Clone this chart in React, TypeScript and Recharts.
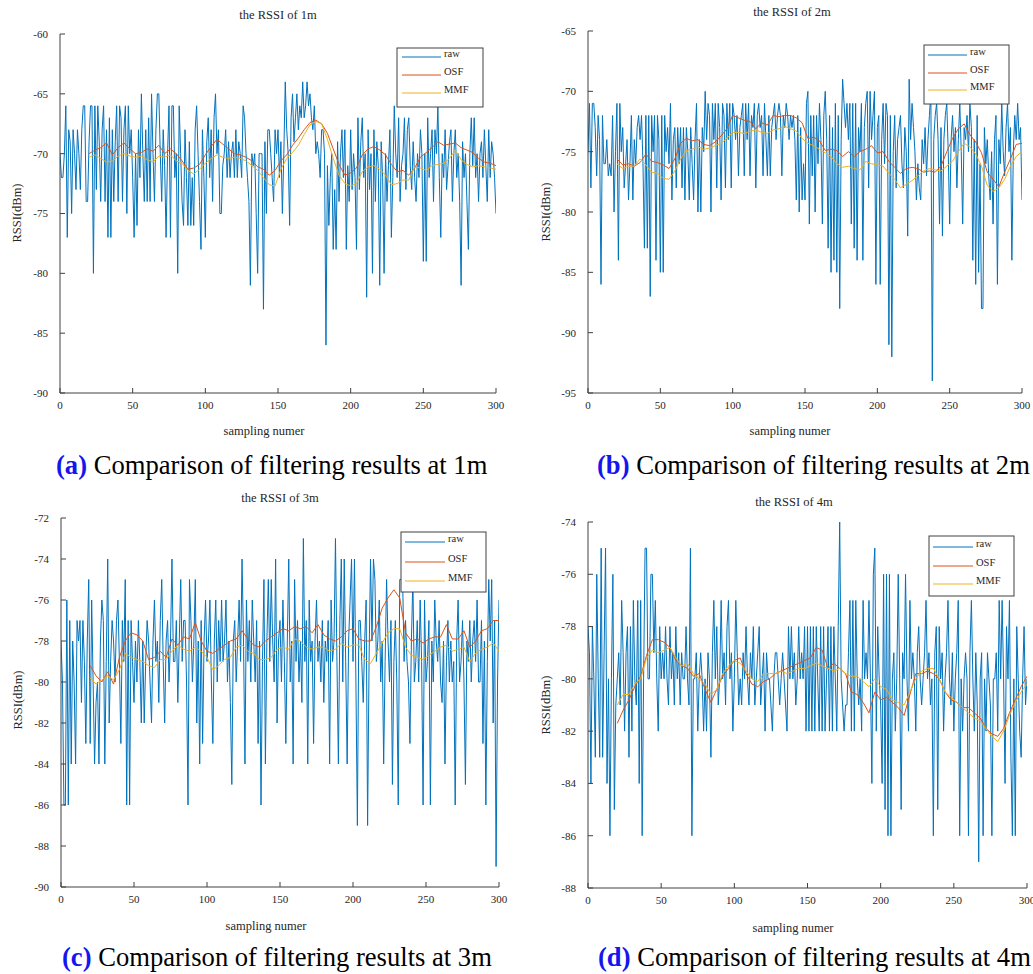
import React from 'react';
import { LineChart, Line, XAxis, YAxis } from 'recharts';

// ---------- data ----------
const sampleTicks = [0, 50, 100, 150, 200, 250, 300];
const filterStart = 20;
const filterStep = 4;

const yTicksA = [-90, -85, -80, -75, -70, -65, -60];
const yTicksB = [-95, -90, -85, -80, -75, -70, -65];
const yTicksC = [-90, -88, -86, -84, -82, -80, -78, -76, -74, -72];
const yTicksD = [-88, -86, -84, -82, -80, -78, -76, -74];

const rawA = [
  -70, -72, -72, -70, -66, -77, -68, -69, -75, -68,
  -70, -73, -68, -70, -73, -68, -66, -66, -74, -74,
  -69, -66, -66, -80, -66, -73, -66, -69, -74, -68,
  -66, -74, -68, -77, -67, -77, -68, -74, -69, -66,
  -74, -66, -67, -74, -68, -66, -75, -66, -70, -68,
  -72, -77, -70, -76, -68, -72, -65, -70, -74, -68,
  -74, -67, -74, -65, -70, -74, -68, -65, -65, -70,
  -74, -68, -71, -77, -70, -66, -77, -66, -66, -72,
  -70, -80, -66, -70, -74, -76, -68, -72, -76, -69,
  -76, -72, -76, -68, -66, -70, -74, -78, -68, -72,
  -77, -69, -67, -72, -68, -74, -67, -65, -70, -68,
  -75, -75, -71, -70, -68, -72, -69, -72, -70, -69,
  -72, -68, -72, -69, -70, -72, -66, -67, -70, -72,
  -74, -81, -70, -71, -70, -75, -80, -70, -70, -70,
  -83, -69, -75, -68, -68, -70, -72, -74, -68, -70,
  -68, -72, -69, -75, -70, -64, -68, -70, -76, -67,
  -65, -69, -67, -65, -68, -66, -67, -64, -67, -66,
  -64, -66, -65, -67, -68, -66, -70, -69, -70, -72,
  -68, -68, -70, -86, -71, -76, -72, -70, -78, -73,
  -78, -69, -74, -70, -68, -72, -68, -78, -71, -74,
  -68, -73, -70, -72, -78, -67, -73, -69, -67, -72,
  -70, -82, -68, -73, -70, -80, -68, -74, -69, -71,
  -81, -69, -72, -80, -70, -74, -71, -68, -77, -72,
  -66, -70, -72, -67, -74, -71, -70, -67, -73, -68,
  -67, -71, -73, -69, -72, -74, -70, -72, -68, -70,
  -79, -70, -79, -67, -72, -70, -68, -74, -68, -70,
  -66, -72, -77, -70, -72, -68, -73, -71, -69, -68,
  -74, -70, -68, -72, -70, -74, -81, -69, -72, -70,
  -74, -78, -70, -67, -71, -67, -72, -70, -74, -70,
  -69, -72, -68, -71, -74, -68, -72, -69, -70, -72,
  -75,
];
const osfA = [
  -70.0, -69.7, -69.5, -69.1, -70.1, -69.5, -69.1, -69.6, -70.0, -69.9,
  -69.6, -69.8, -69.3, -70.0, -69.6, -70.0, -70.6, -71.3, -71.2, -70.9,
  -70.1, -69.4, -68.8, -69.2, -69.6, -70.0, -70.1, -70.3, -70.6, -71.1,
  -71.3, -71.8, -71.4, -70.6, -70.1, -69.3, -68.7, -68.0, -67.4, -67.2,
  -67.5, -68.3, -69.6, -70.9, -71.8, -71.6, -71.2, -70.1, -69.6, -69.4,
  -69.7, -70.1, -70.9, -71.5, -71.4, -71.8, -71.2, -70.3, -69.9, -69.5,
  -69.0, -69.3, -69.2, -69.1, -69.5, -69.7, -69.9, -70.4, -70.7, -70.8,
  -71.0,
];
const mmfA = [
  -70.3, -70.1, -70.4, -70.7, -70.6, -70.2, -70.0, -70.2, -70.3, -70.2,
  -70.5, -70.7, -70.2, -70.3, -70.1, -70.6, -70.8, -71.4, -71.7, -71.3,
  -70.8, -70.4, -70.1, -70.3, -70.4, -70.3, -70.4, -70.6, -71.0, -71.4,
  -72.0, -72.6, -72.7, -71.3, -70.4, -69.9, -69.3, -68.4, -67.6, -67.3,
  -67.5, -68.8, -70.4, -71.8, -72.5, -72.7, -72.5, -71.5, -71.1, -71.0,
  -71.3, -71.8, -72.6, -72.5, -72.2, -72.2, -71.1, -71.2, -71.4, -71.0,
  -70.9, -70.8, -70.4, -69.7, -70.5, -70.9, -71.1, -71.0, -71.1, -71.2,
  -71.3,
];

const rawB = [
  -75, -71, -78, -71, -71, -73, -77, -72, -74, -86,
  -72, -76, -76, -74, -77, -76, -77, -72, -80, -75,
  -71, -84, -71, -75, -73, -78, -76, -74, -79, -76,
  -72, -79, -74, -76, -73, -72, -74, -72, -76, -83,
  -72, -83, -72, -87, -72, -75, -72, -84, -72, -74,
  -85, -72, -85, -72, -75, -73, -76, -71, -79, -74,
  -73, -78, -73, -76, -73, -78, -73, -79, -73, -75,
  -79, -73, -76, -79, -74, -71, -80, -74, -80, -73,
  -75, -70, -74, -71, -72, -80, -71, -74, -71, -78,
  -71, -73, -79, -71, -72, -78, -71, -74, -71, -78,
  -71, -72, -74, -72, -77, -73, -72, -71, -77, -71,
  -74, -71, -77, -72, -73, -71, -78, -72, -71, -73,
  -72, -77, -71, -74, -77, -72, -77, -73, -72, -71,
  -74, -72, -71, -72, -77, -72, -73, -71, -72, -74,
  -72, -73, -72, -74, -79, -72, -80, -73, -79, -76,
  -79, -71, -70, -81, -72, -77, -72, -80, -72, -76,
  -71, -74, -81, -72, -70, -74, -83, -72, -85, -73,
  -84, -71, -85, -72, -88, -74, -69, -71, -73, -71,
  -74, -71, -81, -71, -83, -71, -84, -73, -75, -71,
  -84, -73, -71, -70, -78, -70, -74, -72, -70, -86,
  -73, -72, -86, -74, -71, -76, -71, -72, -91, -72,
  -92, -75, -72, -78, -74, -73, -72, -76, -78, -73,
  -75, -82, -69, -74, -71, -73, -75, -79, -76, -78,
  -79, -74, -76, -73, -77, -74, -72, -70, -94, -74,
  -72, -71, -74, -81, -73, -82, -74, -72, -71, -75,
  -81, -74, -72, -75, -73, -78, -74, -71, -75, -81,
  -73, -74, -72, -75, -71, -73, -84, -74, -86, -72,
  -85, -76, -88, -88, -73, -76, -74, -77, -79, -75,
  -81, -74, -72, -86, -74, -76, -71, -75, -77, -73,
  -71, -75, -73, -84, -75, -72, -74, -71, -74, -73,
  -79,
];
const osfB = [
  -75.6, -76.1, -76.0, -76.2, -75.9, -75.2, -75.8, -75.9, -76.1, -76.4,
  -75.6, -74.3, -73.9, -74.1, -74.0, -74.4, -74.5, -74.2, -73.7, -73.1,
  -72.0, -72.2, -72.4, -72.5, -73.1, -72.6, -72.8, -72.0, -72.1, -72.0,
  -72.0, -72.2, -72.6, -73.9, -73.8, -74.1, -74.9, -74.8, -74.9, -75.4,
  -75.0, -75.4, -75.0, -74.8, -74.5, -75.1, -75.0, -75.8, -76.3, -76.8,
  -76.4, -76.3, -76.4, -76.7, -76.6, -76.7, -76.2, -75.0, -73.9, -73.1,
  -72.7, -73.6, -74.2, -75.1, -76.7, -77.3, -77.9, -76.7, -75.6, -74.4,
  -74.3,
];
const mmfB = [
  -76.0, -76.4, -76.2, -76.2, -75.6, -76.1, -76.7, -76.8, -77.2, -77.3,
  -76.6, -75.6, -74.9, -74.8, -74.6, -74.8, -74.7, -74.5, -74.3, -73.9,
  -73.4, -73.4, -73.5, -73.3, -73.2, -73.4, -73.5, -73.2, -73.1, -72.9,
  -73.1, -73.3, -73.9, -74.3, -74.5, -74.8, -75.1, -75.4, -76.0, -76.3,
  -76.2, -76.4, -76.5, -75.8, -76.0, -76.1, -76.2, -76.8, -77.3, -78.0,
  -77.7, -77.4, -77.0, -76.6, -76.4, -76.5, -76.6, -76.2, -75.8, -75.0,
  -74.3, -74.6, -75.2, -76.2, -77.8, -78.3, -78.0, -77.3, -76.2, -75.4,
  -75.0,
];

const rawC = [
  -78, -80, -86, -86, -76, -86, -77, -84, -78, -80,
  -84, -77, -78, -77, -81, -77, -79, -83, -78, -75,
  -83, -76, -80, -84, -81, -80, -84, -78, -76, -77,
  -84, -79, -74, -82, -79, -77, -78, -80, -77, -76,
  -79, -83, -77, -79, -75, -86, -77, -86, -77, -79,
  -81, -78, -80, -77, -79, -82, -78, -82, -79, -77,
  -78, -80, -82, -78, -76, -79, -78, -81, -77, -75,
  -79, -82, -78, -77, -80, -78, -74, -79, -79, -77,
  -81, -78, -75, -79, -77, -77, -80, -86, -75, -77,
  -80, -78, -75, -82, -78, -84, -77, -83, -78, -76,
  -79, -78, -76, -80, -83, -78, -76, -80, -77, -79,
  -76, -79, -78, -76, -80, -78, -81, -85, -78, -77,
  -80, -78, -76, -79, -74, -78, -84, -76, -79, -77,
  -80, -76, -78, -80, -77, -83, -78, -86, -79, -75,
  -84, -78, -75, -79, -75, -78, -80, -74, -82, -78,
  -77, -80, -76, -79, -83, -78, -74, -80, -78, -84,
  -75, -79, -77, -80, -78, -81, -73, -79, -77, -84,
  -76, -79, -78, -83, -78, -76, -79, -78, -80, -77,
  -81, -78, -79, -77, -84, -76, -79, -78, -73, -79,
  -84, -77, -74, -80, -74, -79, -84, -78, -76, -74,
  -79, -74, -80, -87, -77, -77, -79, -81, -78, -76,
  -87, -79, -74, -78, -74, -75, -79, -78, -76, -80,
  -78, -84, -79, -75, -78, -80, -77, -85, -79, -77,
  -80, -86, -75, -75, -75, -79, -77, -79, -80, -83,
  -78, -75, -80, -79, -77, -80, -76, -79, -86, -76,
  -80, -79, -77, -86, -78, -80, -76, -78, -79, -77,
  -80, -81, -78, -84, -79, -77, -80, -78, -80, -79,
  -86, -78, -76, -80, -79, -77, -80, -85, -78, -79,
  -77, -80, -78, -77, -79, -76, -80, -80, -77, -83,
  -78, -86, -79, -75, -78, -75, -82, -77, -89, -80,
  -76,
];
const osfC = [
  -79.2, -79.7, -80.0, -79.5, -80.1, -78.8, -78.0, -77.6, -77.7, -78.0,
  -78.9, -78.8, -78.5, -78.8, -77.9, -78.2, -77.8, -77.9, -77.1, -78.0,
  -78.5, -78.6, -78.4, -78.2, -78.0, -77.9, -77.5, -77.9, -78.2, -78.3,
  -78.0, -77.8, -77.6, -77.4, -77.5, -77.3, -77.4, -77.3, -77.6, -77.2,
  -77.7, -77.9, -78.0, -77.8, -77.5, -77.4, -77.9, -78.0, -78.0, -77.3,
  -76.4, -75.9, -75.5, -75.9, -77.6, -78.0, -77.9, -78.1, -77.9, -77.8,
  -77.8, -77.2, -77.9, -77.9, -77.5, -78.3, -78.0, -77.5, -77.4, -77.0,
  -77.0,
];
const mmfC = [
  -79.8, -80.1, -79.9, -79.7, -79.9, -79.4, -78.6, -78.8, -78.9, -79.0,
  -79.2, -79.3, -78.9, -78.9, -78.5, -78.2, -78.4, -78.5, -78.3, -78.5,
  -78.8, -79.4, -79.2, -78.9, -78.8, -78.3, -78.2, -78.5, -78.6, -78.9,
  -78.9, -78.8, -78.4, -78.3, -78.4, -77.9, -78.0, -78.3, -78.4, -78.3,
  -78.3, -78.5, -78.4, -78.1, -78.3, -78.2, -78.2, -78.9, -79.1, -78.6,
  -78.1, -77.6, -77.4, -77.4, -78.3, -78.7, -78.8, -78.9, -78.7, -78.5,
  -78.3, -78.2, -78.5, -78.4, -78.3, -79.0, -78.6, -78.4, -78.3, -78.1,
  -78.5,
];

const rawD = [
  -78, -79, -84, -78, -80, -83, -76, -80, -83, -75,
  -83, -79, -75, -84, -80, -86, -80, -76, -85, -81,
  -80, -79, -81, -77, -79, -82, -79, -78, -83, -78,
  -82, -77, -80, -81, -77, -84, -77, -86, -80, -75,
  -75, -80, -80, -76, -76, -79, -77, -80, -82, -78,
  -80, -79, -80, -78, -80, -81, -78, -80, -79, -81,
  -78, -80, -79, -81, -79, -80, -80, -78, -80, -81,
  -75, -86, -80, -80, -79, -82, -80, -79, -80, -82,
  -80, -82, -79, -80, -83, -79, -77, -80, -78, -81,
  -80, -77, -80, -79, -81, -78, -77, -80, -79, -82,
  -80, -77, -79, -81, -80, -81, -79, -80, -78, -80,
  -81, -79, -80, -78, -81, -80, -79, -78, -81, -80,
  -79, -82, -79, -80, -80, -81, -82, -80, -79, -79,
  -80, -81, -80, -79, -80, -81, -82, -78, -80, -78,
  -80, -79, -81, -80, -78, -80, -79, -80, -78, -82,
  -78, -82, -78, -82, -78, -82, -78, -80, -82, -78,
  -82, -78, -82, -80, -78, -82, -78, -82, -78, -80,
  -82, -78, -74, -80, -81, -82, -81, -81, -79, -77,
  -82, -77, -82, -77, -80, -81, -80, -82, -77, -80,
  -79, -80, -77, -80, -84, -76, -75, -82, -78, -80,
  -81, -84, -76, -85, -76, -86, -76, -86, -80, -79,
  -82, -80, -76, -80, -85, -79, -80, -76, -80, -82,
  -77, -80, -79, -80, -82, -79, -78, -80, -81, -80,
  -79, -77, -80, -79, -81, -80, -86, -79, -78, -85,
  -78, -80, -79, -82, -80, -79, -77, -80, -81, -79,
  -82, -80, -79, -77, -86, -80, -82, -80, -79, -80,
  -86, -79, -77, -80, -82, -79, -81, -87, -80, -79,
  -86, -80, -82, -79, -80, -81, -86, -80, -80, -79,
  -82, -77, -80, -77, -80, -84, -78, -80, -77, -83,
  -86, -80, -86, -78, -80, -82, -83, -80, -78, -81,
  -80,
];
const osfD = [
  -81.7, -81.2, -80.8, -80.3, -79.9, -79.1, -78.5, -78.5, -78.6, -78.8,
  -79.3, -79.5, -79.6, -79.9, -79.8, -80.4, -80.9, -80.4, -79.9, -79.6,
  -79.3, -79.2, -79.8, -80.2, -80.3, -80.1, -80.0, -79.8, -79.7, -79.6,
  -79.5, -79.4, -79.3, -79.2, -78.8, -78.9, -79.6, -79.4, -79.6, -79.8,
  -80.5, -80.6, -80.9, -81.3, -80.5, -80.8, -80.7, -80.9, -81.1, -81.4,
  -80.6, -79.8, -79.8, -79.7, -79.8, -80.0, -80.5, -80.8, -80.9, -81.1,
  -81.1, -81.3, -81.5, -81.9, -82.1, -82.2, -81.9, -81.3, -80.8, -80.3,
  -79.9,
];
const mmfD = [
  -81.0, -80.6, -80.6, -80.2, -80.0, -79.2, -78.9, -79.0, -78.9, -78.8,
  -79.2, -79.5, -79.4, -79.8, -80.0, -80.2, -80.6, -80.4, -79.8, -79.5,
  -79.3, -79.4, -79.7, -80.0, -80.1, -79.8, -79.8, -79.8, -79.7, -79.8,
  -79.7, -79.6, -79.6, -79.5, -79.4, -79.5, -79.6, -79.7, -79.6, -79.8,
  -79.9, -79.9, -80.1, -80.3, -80.0, -80.3, -80.4, -80.8, -80.9, -81.0,
  -80.5, -80.0, -79.7, -79.6, -79.6, -80.0, -80.5, -80.7, -80.9, -81.1,
  -81.3, -81.5, -81.6, -81.9, -82.2, -82.4, -82.0, -81.4, -80.9, -80.5,
  -80.2,
];

// ---------- styling ----------
const COLORS = { raw: '#0072BD', osf: '#D95319', mmf: '#EDB120' };
const SERIF = '"Liberation Serif", "Times New Roman", serif';
const AXIS = '#404040';
const TEXT = '#262626';

const toRaw = (arr: number[]) => arr.map((y, i) => ({ x: i, y }));
const toFiltered = (arr: number[]) => arr.map((y, k) => ({ x: filterStart + k * filterStep, y }));

type PanelProps = {
  left: number; top: number; width: number; height: number;
  margin: { top: number; right: number; bottom: number; left: number };
  yWidth: number; xHeight: number;
  domain: [number, number]; yTicks: number[];
  raw: number[]; osf: number[]; mmf: number[];
};

function Panel(p: PanelProps) {
  const tickStyle = { fontSize: 11, fontFamily: SERIF, fill: TEXT };
  const line = { stroke: AXIS, strokeWidth: 1 };
  return (
    <div style={{ position: 'absolute', left: p.left, top: p.top }}>
      <LineChart width={p.width} height={p.height} margin={p.margin}>
        <XAxis xAxisId="b" type="number" dataKey="x" domain={[0, 300]} ticks={sampleTicks}
          allowDataOverflow interval={0} height={p.xHeight} tickSize={-5} tickMargin={13}
          tick={tickStyle} axisLine={line} tickLine={line} />
        <XAxis xAxisId="t" orientation="top" type="number" dataKey="x" domain={[0, 300]} ticks={sampleTicks}
          allowDataOverflow interval={0} height={0} tickSize={-5} tick={false} axisLine={line} tickLine={line} />
        <YAxis yAxisId="l" type="number" domain={p.domain} ticks={p.yTicks} allowDataOverflow interval={0}
          width={p.yWidth} tickSize={-5} tickMargin={17} tick={tickStyle} axisLine={line} tickLine={line} />
        <YAxis yAxisId="r" orientation="right" type="number" domain={p.domain} ticks={p.yTicks} allowDataOverflow
          interval={0} width={0} tickSize={-5} tick={false} axisLine={line} tickLine={line} />
        <Line xAxisId="b" yAxisId="l" data={toRaw(p.raw)} dataKey="y" stroke={COLORS.raw} strokeWidth={1}
          dot={false} activeDot={false} isAnimationActive={false} />
        <Line xAxisId="b" yAxisId="l" data={toFiltered(p.osf)} dataKey="y" stroke={COLORS.osf} strokeWidth={1}
          dot={false} activeDot={false} isAnimationActive={false} />
        <Line xAxisId="b" yAxisId="l" data={toFiltered(p.mmf)} dataKey="y" stroke={COLORS.mmf} strokeWidth={1}
          dot={false} activeDot={false} isAnimationActive={false} />
      </LineChart>
    </div>
  );
}

type LegendSpec = { x: number; y: number; w: number; h: number; lx1: number; lx2: number; tx: number; rows: number[] };

function LegendBox({ spec }: { spec: LegendSpec }) {
  const items = [
    { label: 'raw', color: COLORS.raw },
    { label: 'OSF', color: COLORS.osf },
    { label: 'MMF', color: COLORS.mmf },
  ];
  return (
    <g>
      <rect x={spec.x} y={spec.y} width={spec.w} height={spec.h} fill="#fff" stroke={AXIS} strokeWidth={1} />
      {items.map((it, i) => (
        <g key={it.label}>
          <line x1={spec.lx1} x2={spec.lx2} y1={spec.rows[i]} y2={spec.rows[i]} stroke={it.color} strokeWidth={1} />
          <text x={spec.tx} y={spec.rows[i]} fontSize={10.5} fontFamily={SERIF} fill={TEXT}>{it.label}</text>
        </g>
      ))}
    </g>
  );
}

function Caption({ x, y, tag, dist }: { x: number; y: number; tag: string; dist: string }) {
  return (
    <text x={x} y={y} fontSize={26.6} fontFamily={SERIF} fill="#000">
      <tspan fill="#1515ee" fontWeight="bold">{`(${tag})`}</tspan>
      <tspan>{` Comparison of filtering results at ${dist}`}</tspan>
    </text>
  );
}

function YLabel({ x, y }: { x: number; y: number }) {
  return (
    <text x={x} y={y} transform={`rotate(-90 ${x} ${y})`} textAnchor="middle" fontSize={12.5} fontFamily={SERIF} fill={TEXT}>
      RSSI(dBm)
    </text>
  );
}

function Small({ x, y, children }: { x: number; y: number; children: string }) {
  return (
    <text x={x} y={y} textAnchor="middle" fontSize={12.5} fontFamily={SERIF} fill={TEXT}>{children}</text>
  );
}

export default function App() {
  return (
    <div style={{ position: 'absolute', left: 0, top: 0, width: 1033, height: 974, background: '#fff', overflow: 'hidden' }}>
      <Panel left={0} top={0} width={516} height={450} margin={{ top: 34, right: 20, bottom: 0, left: 0 }}
        yWidth={60} xHeight={57} domain={[-90, -60]} yTicks={yTicksA} raw={rawA} osf={osfA} mmf={mmfA} />
      <Panel left={528} top={0} width={505} height={450} margin={{ top: 31, right: 11, bottom: 0, left: 0 }}
        yWidth={60} xHeight={57} domain={[-95, -65]} yTicks={yTicksB} raw={rawB} osf={osfB} mmf={mmfB} />
      <Panel left={0} top={470} width={520} height={450} margin={{ top: 48, right: 21, bottom: 0, left: 0 }}
        yWidth={61} xHeight={33} domain={[-90, -72]} yTicks={yTicksC} raw={rawC} osf={osfC} mmf={mmfC} />
      <Panel left={528} top={470} width={505} height={450} margin={{ top: 52, right: 6, bottom: 0, left: 0 }}
        yWidth={60} xHeight={32} domain={[-88, -74]} yTicks={yTicksD} raw={rawD} osf={osfD} mmf={mmfD} />

      <svg width={1033} height={974} style={{ position: 'absolute', left: 0, top: 0, pointerEvents: 'none' }}>
        <Small x={278} y={19}>the RSSI of 1m</Small>
        <Small x={792} y={16}>the RSSI of 2m</Small>
        <Small x={280} y={502}>the RSSI of 3m</Small>
        <Small x={794} y={506}>the RSSI of 4m</Small>

        <Small x={264} y={435}>sampling numer</Small>
        <Small x={790} y={435}>sampling numer</Small>
        <Small x={266} y={930}>sampling numer</Small>
        <Small x={793} y={932}>sampling numer</Small>

        <YLabel x={21} y={213} />
        <YLabel x={550} y={212} />
        <YLabel x={22} y={700} />
        <YLabel x={550} y={705} />

        <LegendBox spec={{ x: 397, y: 48, w: 86, h: 59, lx1: 402, lx2: 441, tx: 444, rows: [57, 75, 93] }} />
        <LegendBox spec={{ x: 924, y: 45, w: 85, h: 59, lx1: 928, lx2: 967, tx: 970, rows: [55, 73, 90] }} />
        <LegendBox spec={{ x: 401, y: 532, w: 85, h: 60, lx1: 405, lx2: 445, tx: 448, rows: [542, 562, 581] }} />
        <LegendBox spec={{ x: 929, y: 536, w: 85, h: 60, lx1: 933, lx2: 973, tx: 976, rows: [547, 566, 584] }} />

        <Caption x={56} y={474} tag="a" dist="1m" />
        <Caption x={597} y={474} tag="b" dist="2m" />
        <Caption x={62} y={966} tag="c" dist="3m" />
        <Caption x={598} y={966} tag="d" dist="4m" />
      </svg>
    </div>
  );
}
